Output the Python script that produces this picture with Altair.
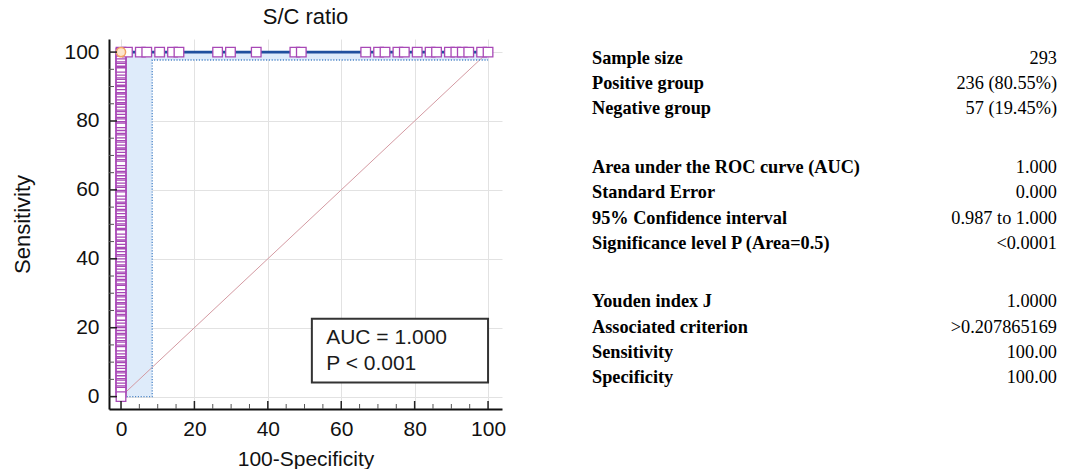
import altair as alt
import pandas as pd

# ---------------- data ----------------
N_POS = 236
N_NEG = 57

# true-positive counts of the ROC points stacked at 100-Specificity = 0
stack_tp = [0, 3, 4, 6, 8, 9, 11, 13, 14, 16, 18, 20, 21, 23, 24, 26, 28, 31, 32, 34,
            35, 37, 39, 40, 42, 44, 45, 47, 49, 52, 53, 55, 56, 58, 60, 61, 63, 65, 66,
            68, 70, 73, 74, 76, 77, 79, 81, 82, 84, 86, 87, 89, 91, 93, 94, 96, 98, 99,
            101, 103, 104, 106, 108, 111, 112, 114, 115, 117, 119, 120, 122, 124, 125,
            127, 129, 130, 132, 134, 137, 138, 140, 141, 143, 145, 146, 148, 150, 151,
            153, 155, 158, 159, 161, 162, 164, 166, 167, 169, 171, 172, 174, 176, 177,
            179, 181, 184, 185, 187, 188, 190, 192, 193, 195, 197, 198, 200, 202, 204,
            205, 207, 209, 210, 212, 214, 215, 217, 219, 222, 223, 225, 226, 228, 230,
            231, 233, 235, 236]
# false-positive counts of the ROC points on the Sensitivity = 100 line
top_fp = [1, 3, 4, 6, 8, 9, 15, 17, 21, 27, 28, 38, 40, 41, 43, 44, 46, 48, 49,
          51, 52, 53, 54, 56, 57]

roc_x = [0, 0, 100]
roc_y = [0, 100, 100]

# lower confidence bound of the curve (dotted)
ci_x = [0, 8.5, 8.5, 100]
ci_y = [0, 0, 97.7, 97.7]
# shaded band between bound and curve
band_x = [0, 8.5, 100]
band_lo = [0, 97.7, 97.7]
band_hi = [100, 100, 100]

diag_x = [0, 100]
diag_y = [0, 100]

opt_x = [0]
opt_y = [100]

major_ticks = [0, 20, 40, 60, 80, 100]
minor_ticks = [5, 10, 15, 25, 30, 35, 45, 50, 55, 65, 70, 75, 85, 90, 95]

# annotation box (data coordinates)
box_x = [52.0]
box_x2 = [100.0]
box_y = [4.1]
box_y2 = [22.6]
box_lines = ["AUC = 1.000", "P < 0.001"]
box_line_x = [55.9, 55.9]
box_line_y = [15.4, 7.8]

# statistics table
tbl_labels = ["Sample size", "Positive group", "Negative group",
              "Area under the ROC curve (AUC)", "Standard Error",
              "95% Confidence interval", "Significance level P (Area=0.5)",
              "Youden index J", "Associated criterion", "Sensitivity", "Specificity"]
tbl_values = ["293", "236 (80.55%)", "57 (19.45%)",
              "1.000", "0.000", "0.987 to 1.000", "<0.0001",
              "1.0000", ">0.207865169", "100.00", "100.00"]
tbl_group = [0, 0, 0, 1, 1, 1, 1, 2, 2, 2, 2]

# ---------------- layout ----------------
W, H = 393, 370
XD = [-3.27, 103.8]
YD = [-3.6, 103.8]
FONT = "Liberation Sans"
SERIF = "Liberation Serif"

xs = alt.Scale(domain=XD, nice=False, zero=False)
ys = alt.Scale(domain=YD, nice=False, zero=False)

# table row positions: row index plus a gap per group
ROW_PX = 25.2
GAP = 1.33
tbl_pos = [i + GAP * g for i, g in enumerate(tbl_group)]
first_row_px = 20
tdom = [-first_row_px / ROW_PX, (H - first_row_px) / ROW_PX]
ts = alt.Scale(domain=tdom, nice=False, zero=False, reverse=True)

stack_df = pd.DataFrame({
    "fpr": [0.0] * len(stack_tp),
    "sens": [t * 100.0 / N_POS for t in stack_tp],
}).sort_values("sens", ascending=False)
top_df = pd.DataFrame({"fpr": [f * 100.0 / N_NEG for f in top_fp],
                       "sens": [100.0] * len(top_fp)})
roc_df = pd.DataFrame({"fpr": roc_x, "sens": roc_y, "o": range(len(roc_x))})
ci_df = pd.DataFrame({"fpr": ci_x, "sens": ci_y, "o": range(len(ci_x))})
band_df = pd.DataFrame({"fpr": band_x, "lo": band_lo, "hi": band_hi})
diag_df = pd.DataFrame({"fpr": diag_x, "sens": diag_y})
opt_df = pd.DataFrame({"fpr": opt_x, "sens": opt_y})
maj_df = pd.DataFrame({"v": major_ticks})
min_df = pd.DataFrame({"v": minor_ticks})
box_df = pd.DataFrame({"x": box_x, "x2": box_x2, "y": box_y, "y2": box_y2})
boxt_df = pd.DataFrame({"t": box_lines, "x": box_line_x, "y": box_line_y})
tbl_df = pd.DataFrame({"label": tbl_labels, "value": tbl_values, "pos": tbl_pos})

x_axis = alt.Axis(values=major_ticks, grid=True, gridColor="#e2e2e2", gridWidth=1,
                  ticks=False, domainColor="#111", domainWidth=2,
                  labelFont=FONT, labelFontSize=21, labelColor="#111", labelPadding=9,
                  title="100-Specificity", titleFont=FONT, titleFontSize=21,
                  titleFontWeight="normal", titleColor="#111", titlePadding=9)
y_axis = alt.Axis(values=major_ticks, grid=True, gridColor="#e2e2e2", gridWidth=1,
                  ticks=False, domainColor="#111", domainWidth=2,
                  labelFont=FONT, labelFontSize=21, labelColor="#111", labelPadding=10,
                  title="Sensitivity", titleFont=FONT, titleFontSize=22,
                  titleFontWeight="normal", titleColor="#111", titlePadding=29)

band = alt.Chart(band_df).mark_area(interpolate="step-after", color="#deebfa").encode(
    x=alt.X("fpr:Q", scale=xs, axis=x_axis),
    y=alt.Y("lo:Q", scale=ys, axis=y_axis),
    y2="hi:Q",
)
diag = alt.Chart(diag_df).mark_line(color="#d49aa2", strokeWidth=1).encode(
    x=alt.X("fpr:Q", scale=xs), y=alt.Y("sens:Q", scale=ys, axis=None))
ci = alt.Chart(ci_df).mark_line(color="#4d86c8", strokeWidth=1.3, strokeDash=[1.2, 1.6]).encode(
    x=alt.X("fpr:Q", scale=xs), y=alt.Y("sens:Q", scale=ys, axis=None), order="o:Q")
roc = alt.Chart(roc_df).mark_line(color="#1f4f9e", strokeWidth=2.6).encode(
    x=alt.X("fpr:Q", scale=xs), y=alt.Y("sens:Q", scale=ys, axis=None), order="o:Q")
sq_style = dict(shape="square", size=92, filled=True, fill="white",
                stroke="#a848b6", strokeWidth=1.3, opacity=1)
stack = alt.Chart(stack_df).mark_point(**sq_style).encode(
    x=alt.X("fpr:Q", scale=xs), y=alt.Y("sens:Q", scale=ys, axis=None))
top = alt.Chart(top_df).mark_point(**sq_style).encode(
    x=alt.X("fpr:Q", scale=xs), y=alt.Y("sens:Q", scale=ys, axis=None))
opt = alt.Chart(opt_df).mark_point(shape="circle", size=85, filled=True, fill="#fde6cc",
                                   stroke="#f2a263", strokeWidth=1.5, opacity=1).encode(
    x=alt.X("fpr:Q", scale=xs), y=alt.Y("sens:Q", scale=ys, axis=None))

xmaj = alt.Chart(maj_df).mark_rule(color="#222", strokeWidth=1.5).encode(
    x=alt.X("v:Q", scale=xs), y=alt.value(H), y2=alt.value(H - 8))
xmin = alt.Chart(min_df).mark_rule(color="#555", strokeWidth=1).encode(
    x=alt.X("v:Q", scale=xs), y=alt.value(H), y2=alt.value(H - 5))
ymaj = alt.Chart(maj_df).mark_rule(color="#222", strokeWidth=1.5).encode(
    y=alt.Y("v:Q", scale=ys, axis=None), x=alt.value(0), x2=alt.value(8))
ymin = alt.Chart(min_df).mark_rule(color="#555", strokeWidth=1).encode(
    y=alt.Y("v:Q", scale=ys, axis=None), x=alt.value(0), x2=alt.value(5))

box = alt.Chart(box_df).mark_rect(fill="white", stroke="#333", strokeWidth=2).encode(
    x=alt.X("x:Q", scale=xs), x2="x2:Q",
    y=alt.Y("y:Q", scale=ys, axis=None), y2="y2:Q")
boxt = alt.Chart(boxt_df).mark_text(font=FONT, fontSize=21, align="left",
                                    baseline="alphabetic", color="#1a1a1a").encode(
    x=alt.X("x:Q", scale=xs), y=alt.Y("y:Q", scale=ys, axis=None), text="t:N")

tl = alt.Chart(tbl_df).mark_text(font=SERIF, fontSize=18.3, fontWeight="bold", align="left",
                                 baseline="middle", color="black").encode(
    x=alt.value(483), y=alt.Y("pos:Q", scale=ts, axis=None), text="label:N")
tv = alt.Chart(tbl_df).mark_text(font=SERIF, fontSize=18.3, align="right",
                                 baseline="middle", color="black").encode(
    x=alt.value(948), y=alt.Y("pos:Q", scale=ts, axis=None), text="value:N")

chart = alt.layer(
    band, diag, ci, roc, stack, top, opt, xmaj, xmin, ymaj, ymin, box, boxt, tl, tv
).resolve_scale(y="independent").properties(
    width=W, height=H,
    title=alt.TitleParams("S/C ratio", frame="group", anchor="middle", font=FONT,
                          fontSize=22, fontWeight="normal", color="#111", offset=10),
    padding={"left": 11, "top": 6, "right": 5, "bottom": 0},
).configure_view(stroke=None)

chart.save("out.html", embed_options={"renderer": "svg", "actions": False})
